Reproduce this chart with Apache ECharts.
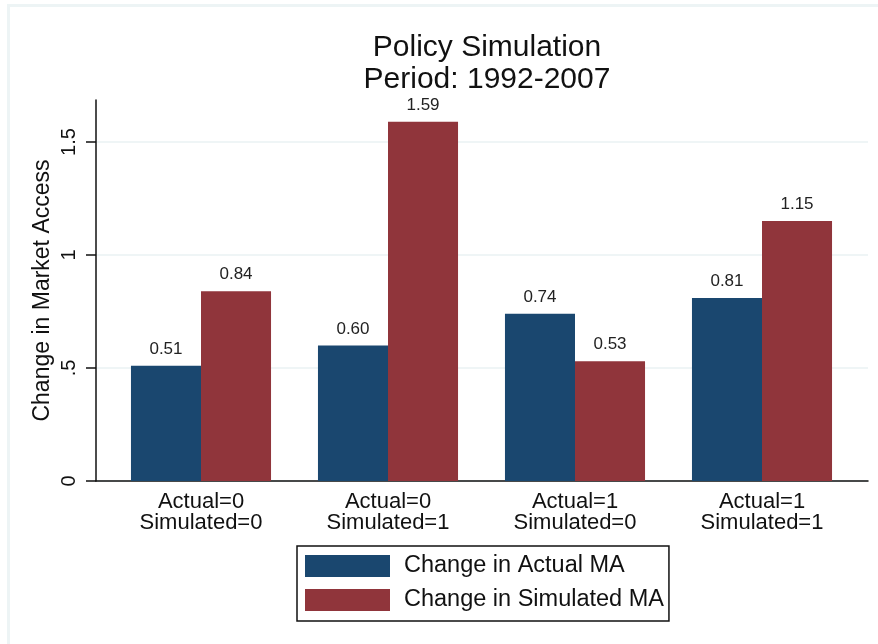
<!DOCTYPE html>
<html lang="en">
<head>
<meta charset="UTF-8" />
<title>Policy Simulation</title>
<script src="https://cdn.jsdelivr.net/npm/echarts@6/dist/echarts.min.js"></script>
<style>
  html, body { margin: 0; padding: 0; background: #fff; }
  #main { width: 878px; height: 644px; }
  /* faint outer frame, top and left edge */
  #edge { position: absolute; left: 7px; top: 4px; width: 871px; height: 640px;
          border-top: 3px solid #edf4f5; border-left: 3px solid #edf4f5; pointer-events: none; }
</style>
</head>
<body>
<div id="main"></div>
<div id="edge"></div>
<script>
// data
var categories = ['Actual=0\nSimulated=0', 'Actual=0\nSimulated=1', 'Actual=1\nSimulated=0', 'Actual=1\nSimulated=1'];
var actualMA = [0.51, 0.60, 0.74, 0.81];
var simulatedMA = [0.84, 1.59, 0.53, 1.15];
var yTicks = [0, 0.5, 1, 1.5];
var yTickLabels = ['0', '.5', '1', '1.5'];

var font = "'Liberation Sans', Arial, sans-serif";
var yMax = 1.686;

var myChart = echarts.init(document.getElementById('main'));

myChart.setOption({
  animation: false,
  title: {
    text: 'Policy Simulation\nPeriod: 1992-2007',
    left: 482,
    top: 27,
    textAlign: 'center',
    textStyle: { fontFamily: font, fontWeight: 'normal', fontSize: 30, lineHeight: 32, color: '#111' }
  },
  legend: {
    orient: 'vertical',
    left: 297,
    top: 546,
    padding: [8, 5, 9, 8],
    itemWidth: 85,
    itemHeight: 22,
    itemGap: 10,
    borderColor: '#111',
    borderWidth: 1.5,
    icon: 'rect',
    textStyle: { fontFamily: font, fontSize: 23.5, color: '#111', padding: [0, 0, 0, 9] },
    data: ['Change in Actual MA', 'Change in Simulated MA']
  },
  grid: [
    // frame: axis lines, ticks, gridlines
    { left: 96, right: 10, top: 100, bottom: 163 },
    // bars
    { left: 107.5, right: 22.5, top: 100, bottom: 163 }
  ],
  xAxis: [
    {
      gridIndex: 0, type: 'value', min: 0, max: 1,
      axisLine: { show: true, lineStyle: { color: '#111', width: 1.5 } },
      axisTick: { show: false }, axisLabel: { show: false }, splitLine: { show: false }
    },
    {
      gridIndex: 1, type: 'category', data: categories,
      axisLine: { show: false }, axisTick: { show: false },
      axisLabel: { fontFamily: font, fontSize: 22, lineHeight: 21, color: '#111', margin: 10 }
    }
  ],
  yAxis: [
    {
      gridIndex: 0, type: 'value', min: 0, max: yMax, interval: 0.5,
      name: 'Change in Market Access', nameLocation: 'middle', nameGap: 42, nameMoveOverlap: false,
      nameTextStyle: { fontFamily: font, fontSize: 23, color: '#111' },
      axisLine: { show: true, lineStyle: { color: '#111', width: 1.5 } },
      axisTick: { show: true, length: 10, customValues: yTicks, lineStyle: { color: '#111', width: 1.5 } },
      axisLabel: {
        customValues: yTicks, rotate: 90, margin: 17,
        fontFamily: font, fontSize: 20, color: '#111',
        formatter: function (v) { return yTickLabels[yTicks.indexOf(v)]; }
      },
      splitLine: { show: true, lineStyle: { color: '#eaf2f3', width: 1.5 } }
    },
    {
      gridIndex: 1, type: 'value', min: 0, max: yMax, show: false, splitLine: { show: false }
    }
  ],
  series: [
    {
      name: 'Change in Actual MA', type: 'bar', xAxisIndex: 1, yAxisIndex: 1,
      data: actualMA, barGap: '0%', barCategoryGap: '25.1%',
      itemStyle: { color: '#1a476f' },
      label: { show: true, position: 'top', distance: 8, fontFamily: font, fontSize: 17, color: '#222',
               formatter: function (p) { return p.value.toFixed(2); } }
    },
    {
      name: 'Change in Simulated MA', type: 'bar', xAxisIndex: 1, yAxisIndex: 1,
      data: simulatedMA, barGap: '0%', barCategoryGap: '25.1%',
      itemStyle: { color: '#90353b' },
      label: { show: true, position: 'top', distance: 8, fontFamily: font, fontSize: 17, color: '#222',
               formatter: function (p) { return p.value.toFixed(2); } }
    }
  ]
});
</script>
</body>
</html>
